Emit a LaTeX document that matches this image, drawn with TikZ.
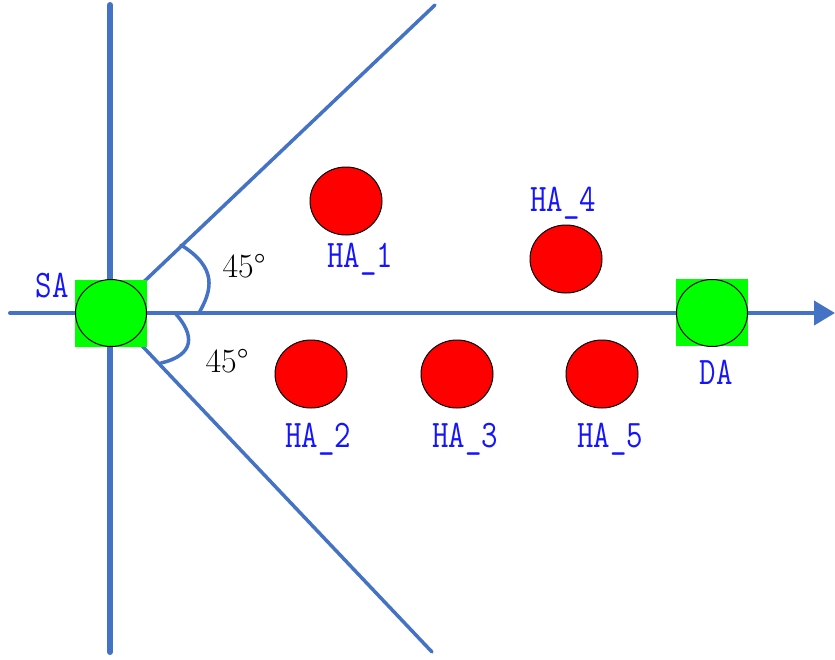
\documentclass[tikz,border=0pt]{standalone}
\usepackage{fontspec}
\usetikzlibrary{arrows.meta,shapes.geometric}
\definecolor{axisblue}{RGB}{68,114,196}
\definecolor{lblblue}{RGB}{20,20,255}
\begin{document}
\begin{tikzpicture}[x=1pt,y=-1pt,
  axis/.style={draw=axisblue,line cap=round},
  anchorbox/.style={rectangle,fill=green,minimum width=72pt,minimum height=67pt,inner sep=0pt},
  anchordisk/.style={ellipse,draw=black,line width=1pt,fill=green,minimum width=71pt,minimum height=67pt,inner sep=0pt},
  hadisk/.style={ellipse,draw=black,line width=1pt,fill=red,minimum width=72pt,minimum height=68pt,inner sep=0pt},
  lbl/.style={text=lblblue,font=\fontsize{39}{42}\selectfont\ttfamily,xscale=0.82,inner sep=0pt},
  ang/.style={text=black,font=\fontsize{34}{38}\selectfont,inner sep=0pt}]
\useasboundingbox (0,0) rectangle (835,659);

% anchor positions
\coordinate (sac) at (111,313);
\coordinate (vtop) at (110,5);
\coordinate (vbot) at (110,652);
\coordinate (hleft) at (10,313);
\coordinate (hright) at (835,313);
\coordinate (dup) at (435,5);
\coordinate (ddown) at (432,652);

% axes and the two 45-degree rays
\draw[axis,line width=6pt] (vtop) -- (vbot);
\draw[axis,line width=4pt,-{Triangle[length=21pt,width=24pt]}] (hleft) -- (hright);
\draw[axis,line width=3.5pt] (sac) -- (dup);
\draw[axis,line width=3.5pt] (sac) -- (ddown);

% angle marks
\coordinate (a1s) at (181,245);
\coordinate (a1e) at (199,313);
\coordinate (a2s) at (175,313);
\coordinate (a2e) at (161,363);
\draw[axis,line width=3.5pt] (a1s) .. controls (218,268) and (212,290) .. (a1e);
\draw[axis,line width=3.5pt] (a2s) .. controls (195,335) and (195,355) .. (a2e);
\node[ang] (ang1) at (244,266) {45°};
\node[ang] (ang2) at (227,361) {45°};

% source and destination anchors
\node[anchorbox] (sabox) at (111,313) {};
\node[anchordisk] (sa) at (111,313) {};
\node[anchorbox] (dabox) at (712,312.5) {};
\node[anchordisk] (da) at (712,313) {};
\node[lbl] (salbl) at (52,286) {SA};
\node[lbl] (dalbl) at (716,372) {DA};

% helper anchors
\node[hadisk] (ha1) at (346,201) {};
\node[hadisk] (ha4) at (566,259) {};
\node[hadisk] (ha2) at (311,374) {};
\node[hadisk] (ha3) at (457,374) {};
\node[hadisk] (ha5) at (602,374) {};
\node[lbl] (ha1lbl) at (360,259) {HA\_1};
\node[lbl] (ha4lbl) at (563,203) {HA\_4};
\node[lbl] (ha2lbl) at (318,439) {HA\_2};
\node[lbl] (ha3lbl) at (465,439) {HA\_3};
\node[lbl] (ha5lbl) at (610,439) {HA\_5};
\end{tikzpicture}
\end{document}
